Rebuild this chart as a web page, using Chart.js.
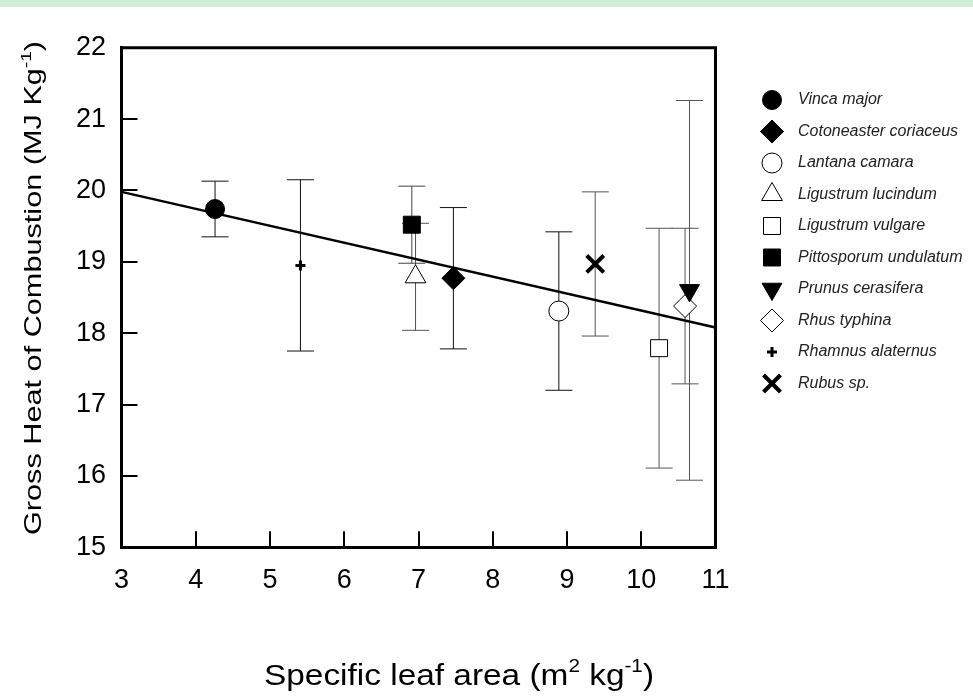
<!DOCTYPE html>
<html>
<head>
<meta charset="utf-8">
<script src="https://cdn.jsdelivr.net/npm/chart.js@4.4.0/dist/chart.umd.min.js"></script>
<style>
  html, body { margin: 0; padding: 0; background: #fff; }
  #wrap { position: relative; width: 973px; height: 696px; }
  #band { position: absolute; left: 0; top: 0; width: 973px; height: 7px; background: #cfeed6; }
  canvas { display: block; }
</style>
</head>
<body>
<div id="wrap">
  <canvas id="chart" width="973" height="696"></canvas>
  <div id="band"></div>
</div>
<script>
// values
const species = ['Vinca major', 'Cotoneaster coriaceus', 'Lantana camara', 'Ligustrum lucindum',
  'Ligustrum vulgare', 'Pittosporum undulatum', 'Prunus cerasifera', 'Rhus typhina',
  'Rhamnus alaternus', 'Rubus sp.'];
const sla = [4.26, 7.47, 8.89, 6.96, 10.24, 6.91, 10.65, 10.59, 5.41, 9.38];
const heat = [19.74, 18.77, 18.31, 18.79, 17.79, 19.52, 18.60, 18.38, 18.95, 18.97];
const heatErr = [0.39, 0.99, 1.11, 0.75, 1.68, 0.54, 2.66, 1.09, 1.20, 1.01];
const fitX = [3, 11];
const fitY = [19.98, 18.08];
const xTickValues = [3, 4, 5, 6, 7, 8, 9, 10, 11];
const yTickValues = [15, 16, 17, 18, 19, 20, 21, 22];

const FONT = '"Liberation Sans", Arial, Helvetica, sans-serif';

// marker look for each species (same order as above)
const markers = [
  { pointStyle: 'circle', radius: 9.5, rotation: 0, fill: '#000', stroke: '#000', lw: 1 },
  { pointStyle: 'rectRot', radius: 11.5, rotation: 0, fill: '#000', stroke: '#000', lw: 1 },
  { pointStyle: 'circle', radius: 10, rotation: 0, fill: '#fff', stroke: '#000', lw: 1 },
  { pointStyle: 'triangle', radius: 12, rotation: 0, fill: '#fff', stroke: '#000', lw: 1 },
  { pointStyle: 'rect', radius: 12, rotation: 0, fill: '#fff', stroke: '#000', lw: 1 },
  { pointStyle: 'rect', radius: 12, rotation: 0, fill: '#000', stroke: '#000', lw: 1 },
  { pointStyle: 'triangle', radius: 11.5, rotation: 180, fill: '#000', stroke: '#000', lw: 1 },
  { pointStyle: 'rectRot', radius: 11.5, rotation: 0, fill: '#fff', stroke: '#000', lw: 1 },
  { pointStyle: 'cross', radius: 5, rotation: 0, fill: '#000', stroke: '#000', lw: 3 },
  { pointStyle: 'crossRot', radius: 12, rotation: 0, fill: '#000', stroke: '#000', lw: 4 }
];
const errColors = ['#111', '#111', '#111', '#555', '#555', '#444', '#555', '#555', '#111', '#555'];

const datasets = species.map((name, i) => ({
  label: name,
  data: [{ x: sla[i], y: heat[i] }],
  pointStyle: markers[i].pointStyle,
  pointRadius: markers[i].radius,
  pointRotation: markers[i].rotation,
  backgroundColor: markers[i].fill,
  borderColor: markers[i].stroke,
  borderWidth: markers[i].lw,
  order: 0
}));
datasets.push({
  label: 'fit',
  data: fitX.map((x, i) => ({ x: x, y: fitY[i] })),
  showLine: true,
  pointRadius: 0,
  borderColor: '#000',
  borderWidth: 2.5,
  order: 1
});

// error bars, drawn under the markers
const errorBars = {
  id: 'errorBars',
  beforeDatasetsDraw(chart) {
    const ctx = chart.ctx, xs = chart.scales.x, ys = chart.scales.y;
    ctx.save();
    ctx.lineWidth = 1;
    species.forEach((s, i) => {
      const x = xs.getPixelForValue(sla[i]);
      const y1 = ys.getPixelForValue(heat[i] + heatErr[i]);
      const y2 = ys.getPixelForValue(heat[i] - heatErr[i]);
      ctx.strokeStyle = errColors[i];
      ctx.beginPath();
      ctx.moveTo(x, y1); ctx.lineTo(x, y2);
      ctx.moveTo(x - 13.5, y1); ctx.lineTo(x + 13.5, y1);
      ctx.moveTo(x - 13.5, y2); ctx.lineTo(x + 13.5, y2);
      ctx.stroke();
    });
    ctx.restore();
  }
};

function richWidth(ctx, parts, size) {
  let w = 0;
  parts.forEach(p => {
    ctx.font = (p.sup ? size * 0.62 : size) + 'px ' + FONT;
    w += ctx.measureText(p.t).width;
  });
  return w;
}

function drawRich(ctx, parts, size, cx, cy, len, angle) {
  ctx.save();
  ctx.translate(cx, cy);
  ctx.rotate(angle);
  const w = richWidth(ctx, parts, size);
  ctx.scale(len / w, 1);
  ctx.fillStyle = '#000';
  ctx.textBaseline = 'alphabetic';
  ctx.textAlign = 'left';
  let x = -w / 2;
  parts.forEach(p => {
    const s = p.sup ? size * 0.62 : size;
    ctx.font = s + 'px ' + FONT;
    ctx.fillText(p.t, x, p.sup ? -size * 0.42 : 0);
    x += ctx.measureText(p.t).width;
  });
  ctx.restore();
}

// frame, axis titles and the species key
const decorations = {
  id: 'decorations',
  afterDraw(chart) {
    const ctx = chart.ctx, a = chart.chartArea;
    ctx.save();
    ctx.strokeStyle = '#000';
    ctx.lineWidth = 3;
    ctx.beginPath();
    ctx.moveTo(a.left - 1.5, a.top);
    ctx.lineTo(a.right, a.top);
    ctx.lineTo(a.right, a.bottom + 1.5);
    ctx.stroke();
    ctx.restore();

    drawRich(ctx, [{ t: 'Specific leaf area (m' }, { t: '2', sup: true }, { t: ' kg' },
      { t: '-1', sup: true }, { t: ')' }], 30, 459, 685, 390, 0);
    drawRich(ctx, [{ t: 'Gross Heat of Combustion (MJ Kg' }, { t: '-1', sup: true }, { t: ')' }],
      24, 41, 288, 494, -Math.PI / 2);

    species.forEach((name, i) => {
      const y = 100 + i * 31.5;
      const m = markers[i];
      ctx.save();
      ctx.fillStyle = m.fill;
      ctx.strokeStyle = m.stroke;
      ctx.lineWidth = m.lw;
      Chart.helpers.drawPoint(ctx, { pointStyle: m.pointStyle, radius: m.radius, rotation: m.rotation, borderWidth: m.lw }, 772, y);
      ctx.restore();
      ctx.save();
      ctx.fillStyle = '#222';
      ctx.font = 'italic 16px ' + FONT;
      ctx.textBaseline = 'middle';
      ctx.fillText(name, 798, y);
      ctx.restore();
    });
  }
};

new Chart(document.getElementById('chart'), {
  type: 'scatter',
  data: { datasets: datasets },
  options: {
    responsive: false,
    animation: false,
    devicePixelRatio: 1,
    layout: { padding: { left: 0, top: 37.7, right: 257.5, bottom: 0 } },
    plugins: { legend: { display: false }, tooltip: { enabled: false } },
    scales: {
      x: {
        type: 'linear',
        min: xTickValues[0],
        max: xTickValues[xTickValues.length - 1],
        afterBuildTicks: s => { s.ticks = xTickValues.map(v => ({ value: v })); },
        afterFit: s => { s.height = 696 - 547.3; },
        border: { display: true, color: '#000', width: 3 },
        grid: { drawOnChartArea: false, drawTicks: true, tickLength: -16, color: '#000', lineWidth: 2 },
        ticks: { color: '#000', font: { family: FONT, size: 27 }, padding: 33, maxRotation: 0 }
      },
      y: {
        type: 'linear',
        min: yTickValues[0],
        max: yTickValues[yTickValues.length - 1],
        afterBuildTicks: s => { s.ticks = yTickValues.map(v => ({ value: v })); },
        afterFit: s => { s.width = 121.5; },
        border: { display: true, color: '#000', width: 3 },
        grid: { drawOnChartArea: false, drawTicks: true, tickLength: -16, color: '#000', lineWidth: 2 },
        ticks: { color: '#000', font: { family: FONT, size: 27 }, padding: 31.5 }
      }
    }
  },
  plugins: [errorBars, decorations]
});
</script>
</body>
</html>
